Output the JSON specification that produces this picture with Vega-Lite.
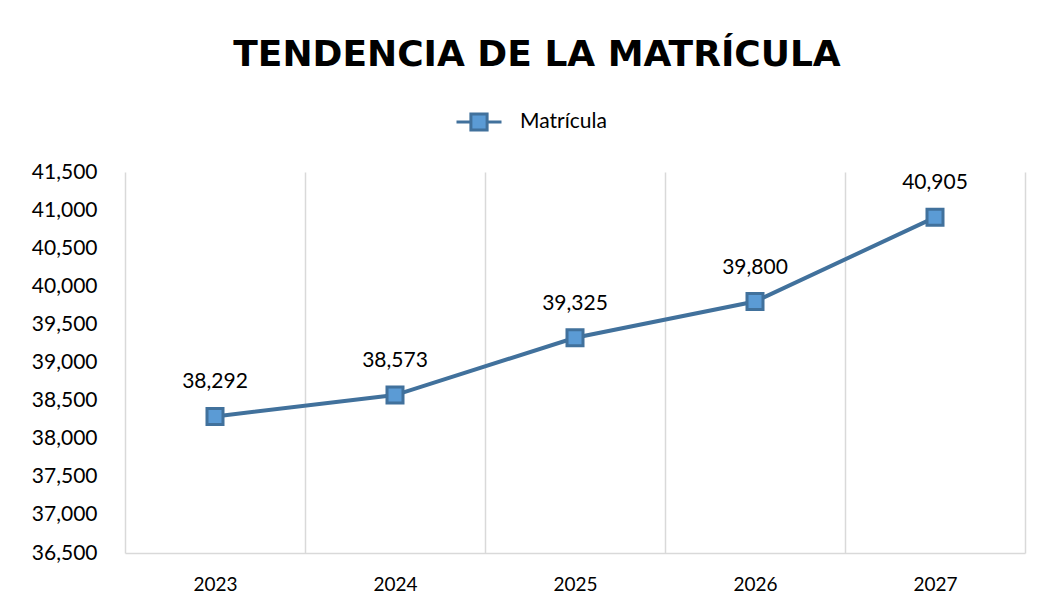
{
  "$schema": "https://vega.github.io/schema/vega-lite/v6.json",
  "width": 900,
  "height": 381,
  "autosize": {"type": "none"},
  "padding": {"left": 125, "top": 172, "right": 20, "bottom": 56},
  "background": "white",
  "title": {
    "text": "TENDENCIA DE LA MATRÍCULA",
    "font": "DejaVu Sans",
    "fontSize": 36,
    "fontWeight": "bold",
    "color": "#000000",
    "anchor": "middle",
    "dx": -38,
    "baseline": "alphabetic",
    "offset": -4
  },
  "data": {
    "values": [
      {"year": "2023", "value": 38292, "serie": "Matrícula"},
      {"year": "2024", "value": 38573, "serie": "Matrícula"},
      {"year": "2025", "value": 39325, "serie": "Matrícula"},
      {"year": "2026", "value": 39800, "serie": "Matrícula"},
      {"year": "2027", "value": 40905, "serie": "Matrícula"}
    ]
  },
  "encoding": {
    "x": {
      "field": "year",
      "type": "nominal",
      "scale": {"type": "band", "paddingInner": 0, "paddingOuter": 0},
      "axis": {
        "title": null,
        "labelAngle": 0,
        "tickBand": "extent",
        "grid": true,
        "gridColor": "#D9D9D9",
        "gridWidth": 1.5,
        "domain": true,
        "domainColor": "#D9D9D9",
        "domainWidth": 1.5,
        "ticks": false,
        "labelPadding": 22,
        "labelFont": "Lato",
        "labelFontSize": 19,
        "labelColor": "#000000"
      }
    },
    "y": {
      "field": "value",
      "type": "quantitative",
      "scale": {"domain": [36500, 41500], "nice": false, "zero": false},
      "axis": {
        "title": null,
        "values": [36500, 37000, 37500, 38000, 38500, 39000, 39500, 40000, 40500, 41000, 41500],
        "labelExpr": "format(datum.value, ',')",
        "grid": false,
        "domain": false,
        "ticks": false,
        "labelPadding": 28,
        "labelFont": "Lato",
        "labelFontSize": 21,
        "labelColor": "#000000"
      }
    }
  },
  "layer": [
    {
      "mark": {"type": "line", "strokeWidth": 4},
      "encoding": {
        "color": {
          "field": "serie",
          "type": "nominal",
          "scale": {"range": ["#41719C"]},
          "legend": {
            "title": null,
            "orient": "none",
            "legendX": 330,
            "legendY": -74,
            "padding": 0,
            "symbolType": "M-1,0H-0.36M0.36,0H1M-0.36,-0.36H0.36V0.36H-0.36Z",
            "symbolSize": 2025,
            "symbolStrokeWidth": 3,
            "labelFont": "Lato",
            "labelFontSize": 21,
            "labelColor": "#000000",
            "labelOffset": 17,
            "encode": {
              "symbols": {
                "update": {
                  "fill": {"value": "#5B9BD5"},
                  "stroke": {"value": "#41719C"},
                  "strokeWidth": {"value": 3},
                  "opacity": {"value": 1}
                }
              }
            }
          }
        }
      }
    },
    {
      "mark": {
        "type": "point",
        "shape": "square",
        "size": 256,
        "filled": true,
        "fill": "#5B9BD5",
        "stroke": "#41719C",
        "strokeWidth": 3,
        "opacity": 1
      }
    },
    {
      "mark": {
        "type": "text",
        "dy": -34,
        "baseline": "middle",
        "font": "Lato",
        "fontSize": 21,
        "color": "#000000"
      },
      "encoding": {
        "text": {"field": "value", "type": "quantitative", "format": ","}
      }
    }
  ],
  "config": {
    "view": {"stroke": null}
  }
}
